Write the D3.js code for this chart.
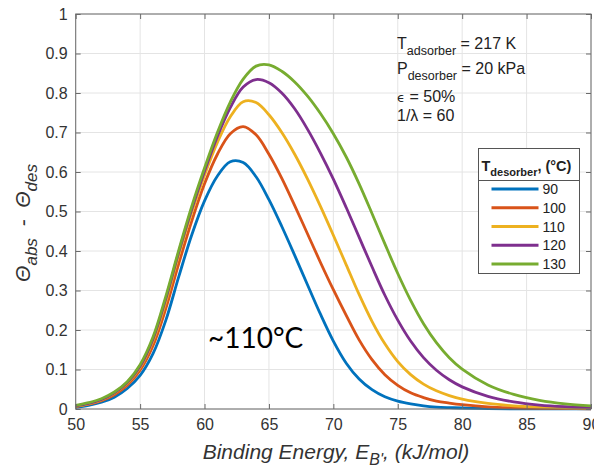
<!DOCTYPE html>
<html>
<head>
<meta charset="utf-8">
<script src="https://cdn.jsdelivr.net/npm/d3@7/dist/d3.min.js"></script>
<style>
  html, body { margin: 0; padding: 0; background: #fff; }
  svg { display: block; font-family: "Liberation Sans", Arial, Helvetica, sans-serif; }
</style>
</head>
<body>
<svg id="chart" width="594" height="470"></svg>
<script>
// Binding energy grid (kJ/mol)
const energy = [50,51,52,53,54,55,56,57,58,59,60,61,62,63,64,65,66,67,68,69,70,
                71,72,73,74,75,76,77,78,79,80,82,84,86,88,90];

// Θabs − Θdes for each desorber temperature
const theta90  = [0.004,0.009,0.017,0.030,0.052,0.085,0.140,0.225,0.335,0.440,0.527,
                  0.590,0.626,0.624,0.588,0.530,0.462,0.389,0.314,0.240,0.172,
                  0.116,0.076,0.049,0.031,0.020,0.013,0.008,0.005,0.0035,0.0025,0.001,0.0006,0.0003,0.0002,0.0001];
const theta100 = [0.006,0.012,0.021,0.036,0.060,0.098,0.160,0.255,0.368,0.475,0.570,
                  0.645,0.697,0.715,0.694,0.645,0.584,0.515,0.443,0.371,0.302,
                  0.237,0.175,0.125,0.087,0.060,0.041,0.029,0.020,0.015,0.011,0.0055,0.003,0.0015,0.001,0.0005];
const theta110 = [0.007,0.013,0.023,0.040,0.065,0.105,0.172,0.272,0.390,0.497,0.592,
                  0.675,0.740,0.778,0.776,0.745,0.700,0.645,0.582,0.513,0.440,
                  0.365,0.290,0.222,0.165,0.120,0.087,0.063,0.046,0.034,0.025,0.014,0.008,0.005,0.003,0.002];
const theta120 = [0.008,0.014,0.024,0.041,0.067,0.108,0.177,0.280,0.397,0.505,0.602,
                  0.690,0.763,0.815,0.834,0.826,0.800,0.760,0.708,0.648,0.582,
                  0.510,0.435,0.360,0.288,0.225,0.172,0.130,0.098,0.074,0.056,0.032,0.018,0.010,0.006,0.004];
const theta130 = [0.009,0.016,0.026,0.043,0.069,0.112,0.182,0.286,0.402,0.512,0.610,
                  0.700,0.777,0.835,0.868,0.871,0.855,0.828,0.792,0.748,0.697,
                  0.638,0.570,0.495,0.418,0.343,0.275,0.216,0.168,0.130,0.101,0.061,0.037,0.022,0.013,0.008];

const desorberTemps = ["90","100","110","120","130"];
const seriesValues = [theta90, theta100, theta110, theta120, theta130];
const seriesColors = ["#0072BD","#D95319","#EDB120","#7E2F8E","#77AC30"];

const xTicks = [50,55,60,65,70,75,80,85,90];
const yTicks = [0,0.1,0.2,0.3,0.4,0.5,0.6,0.7,0.8,0.9,1];
const yTickLabels = ["0","0.1","0.2","0.3","0.4","0.5","0.6","0.7","0.8","0.9","1"];

const svg = d3.select("#chart");
const plotLeft = 75.7, plotRight = 591, plotTop = 14, plotBottom = 409;

const x = d3.scaleLinear().domain([50, 90]).range([plotLeft, plotRight]);
const y = d3.scaleLinear().domain([0, 1]).range([plotBottom, plotTop]);

const axisColor = "#6b6b6b";
const textColor = "#333";

// grid
const grid = svg.append("g");
grid.selectAll("line.gx").data(xTicks).join("line")
  .attr("class", "gx")
  .attr("x1", d => x(d)).attr("x2", d => x(d))
  .attr("y1", plotTop).attr("y2", plotBottom)
  .attr("stroke", "#e4e4e4").attr("stroke-width", 1);
grid.selectAll("line.gy").data(yTicks).join("line")
  .attr("class", "gy")
  .attr("x1", plotLeft).attr("x2", plotRight)
  .attr("y1", d => y(d)).attr("y2", d => y(d))
  .attr("stroke", "#e4e4e4").attr("stroke-width", 1);

// curves
const line = d3.line()
  .x(d => x(d[0]))
  .y(d => y(d[1]))
  .curve(d3.curveCatmullRom.alpha(0.5));

seriesValues.forEach((vals, i) => {
  svg.append("path")
    .datum(energy.map((e, k) => [e, vals[k]]))
    .attr("fill", "none")
    .attr("stroke", seriesColors[i])
    .attr("stroke-width", 2.8)
    .attr("stroke-linejoin", "round")
    .attr("d", line);
});

// axes with inward ticks on all four sides
const xAxis = d3.axisBottom(x).tickValues(xTicks).tickSize(-5).tickPadding(10).tickFormat(d3.format("d"));
const yAxis = d3.axisLeft(y).tickValues(yTicks).tickSize(-5).tickPadding(8)
  .tickFormat((d, i) => yTickLabels[i]);

const gx = svg.append("g").attr("transform", `translate(0,${plotBottom})`).call(xAxis);
const gy = svg.append("g").attr("transform", `translate(${plotLeft},0)`).call(yAxis);
const gxt = svg.append("g").attr("transform", `translate(0,${plotTop})`)
  .call(d3.axisTop(x).tickValues(xTicks).tickSize(-5).tickFormat(""));
const gyr = svg.append("g").attr("transform", `translate(${plotRight},0)`)
  .call(d3.axisRight(y).tickValues(yTicks).tickSize(-5).tickFormat(""));

[gx, gy, gxt, gyr].forEach(g => {
  g.select(".domain").remove();
  g.selectAll(".tick line").attr("stroke", axisColor);
  g.selectAll(".tick text").attr("fill", textColor)
    .style("font-size", "16px").style("font-family", "'Liberation Sans', Arial, sans-serif");
});

svg.append("rect")
  .attr("x", plotLeft).attr("y", plotTop)
  .attr("width", plotRight - plotLeft).attr("height", plotBottom - plotTop)
  .attr("fill", "none").attr("stroke", axisColor).attr("stroke-width", 1);

// axis titles
const xt = svg.append("text")
  .attr("x", 336).attr("y", 459)
  .attr("text-anchor", "middle")
  .attr("fill", textColor)
  .style("font-size", "21px").style("font-style", "italic");
xt.append("tspan").text("Binding Energy, E");
xt.append("tspan").attr("dy", 6).style("font-size", "16px").text("B'");
xt.append("tspan").attr("dy", -6).text(", (kJ/mol)");

const yt = svg.append("text")
  .attr("transform", "translate(30,223) rotate(-90)")
  .attr("text-anchor", "middle")
  .attr("fill", textColor)
  .attr("xml:space", "preserve")
  .style("font-size", "21px").style("font-style", "italic");
yt.append("tspan").text("Θ");
yt.append("tspan").attr("dy", 7).style("font-size", "17px").text("abs");
yt.append("tspan").attr("dy", -7).text("  -  Θ");
yt.append("tspan").attr("dy", 7).style("font-size", "17px").text("des");

// operating conditions
const cond = svg.append("g").attr("fill", "#222").style("font-size", "16px");
const c1 = cond.append("text").attr("x", 397).attr("y", 48.5);
c1.append("tspan").text("T");
c1.append("tspan").attr("dy", 6).style("font-size", "12.5px").text("adsorber");
c1.append("tspan").attr("dy", -6).text(" = 217 K");
const c2 = cond.append("text").attr("x", 397).attr("y", 73.5);
c2.append("tspan").text("P");
c2.append("tspan").attr("dy", 6).style("font-size", "12.5px").text("desorber");
c2.append("tspan").attr("dy", -6).text(" = 20 kPa");
const c3 = cond.append("text").attr("x", 397).attr("y", 101.5);
c3.append("tspan").style("font-family", "'DejaVu Sans', sans-serif").style("font-size", "13px").text("ϵ");
c3.append("tspan").text(" = 50%");
cond.append("text").attr("x", 397).attr("y", 120.5).text("1/λ = 60");

// legend
const lg = svg.append("g");
lg.append("rect")
  .attr("x", 478.5).attr("y", 148.5).attr("width", 101).attr("height", 125)
  .attr("fill", "#fff").attr("stroke", "#555").attr("stroke-width", 1);
lg.append("line")
  .attr("x1", 478.5).attr("x2", 579.5).attr("y1", 180.5).attr("y2", 180.5)
  .attr("stroke", "#555").attr("stroke-width", 1);
const lh = lg.append("text").attr("x", 481.5).attr("y", 171)
  .attr("fill", "#222").style("font-size", "14.5px").style("font-weight", "bold");
lh.append("tspan").text("T");
lh.append("tspan").attr("dy", 5).style("font-size", "11px").text("desorber");
lh.append("tspan").attr("dy", -5).text(", (°C)");

desorberTemps.forEach((t, i) => {
  const yy = 189 + i * 18.75;
  lg.append("line")
    .attr("x1", 491.5).attr("x2", 538.5).attr("y1", yy).attr("y2", yy)
    .attr("stroke", seriesColors[i]).attr("stroke-width", 2.8);
  lg.append("text")
    .attr("x", 542.5).attr("y", yy + 5)
    .attr("fill", "#222").style("font-size", "14px").text(t);
});

// annotation
svg.append("text")
  .attr("x", 208).attr("y", 348)
  .attr("fill", "#000")
  .style("font-family", "Lato, 'Open Sans', sans-serif")
  .style("font-size", "28px")
  .text("~110°C");
</script>
</body>
</html>
